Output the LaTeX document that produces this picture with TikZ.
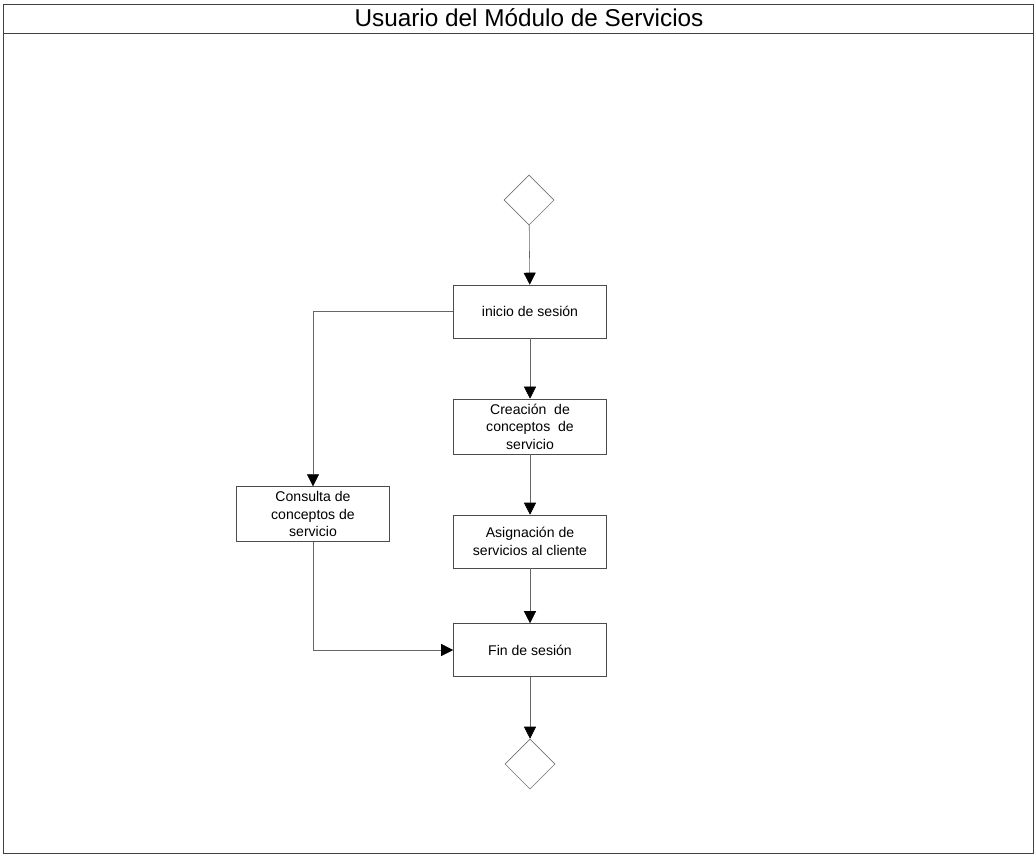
\documentclass[tikz,border=0pt]{standalone}
\usepackage{fontspec}
\setmainfont{Liberation Sans}
\usepackage{tikz}
\usetikzlibrary{shapes.geometric, arrows.meta, positioning}

\begin{document}
\begin{tikzpicture}[
    x=0.025cm, y=-0.025cm,
    actividad/.style={rectangle, draw=black!70, thin, minimum width=3.825cm, minimum height=1.325cm, align=center, font=\fontsize{10}{12.5}\selectfont},
    rombo/.style={diamond, draw=black!55, thin, inner sep=0pt, minimum width=1.25cm, minimum height=1.25cm},
    arrow/.style={draw=black!60, thin, -{Triangle[length=3mm, width=3mm, black]}}
]
    \useasboundingbox (0,0) rectangle (1036,857);
    \draw [black!75, semithick] (3,4) rectangle (1033,853);
    \draw [black!75, semithick] (3,33) -- (1033,33);
    \node [font=\fontsize{17.3}{20}\selectfont] (titulo) at (529,18) {Usuario del Módulo de Servicios};

    \node [rombo] (ini) at (529,200) {};
    \node [actividad] (inicio) at (530,311.5) {inicio de sesión};
    \node [actividad] (creacion) at (530,426.5) {Creación\ \ de\\conceptos\ \ de\\servicio};
    \node [actividad] (consulta) at (313,514) {Consulta de\\conceptos de\\servicio};
    \node [actividad] (asignacion) at (530,541.5) {Asignación de\\servicios al cliente};
    \node [actividad] (fin) at (530,650) {Fin de sesión};
    \node [rombo] (fin2) at (530,764) {};

    \draw [arrow] (ini) -- (inicio);
    \draw [arrow] (inicio) -- (creacion);
    \draw [arrow] (creacion) -- (asignacion);
    \draw [arrow] (asignacion) -- (fin);
    \draw [arrow] (fin) -- (fin2);
    \draw [arrow] (inicio.west) -| (consulta.north);
    \draw [arrow] (consulta.south) |- (fin.west);
\end{tikzpicture}
\end{document}
